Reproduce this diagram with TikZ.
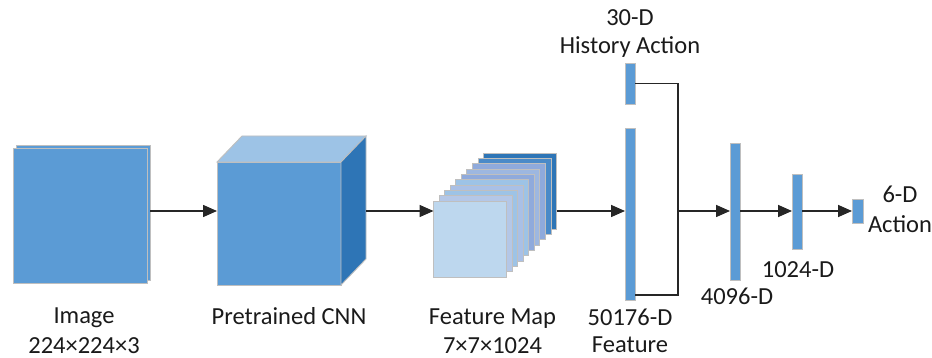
\documentclass[tikz,border=0pt]{standalone}
\usepackage{fontspec}
\setmainfont{Carlito}
\usetikzlibrary{arrows.meta}
\definecolor{blu}{HTML}{5B9BD5}
\definecolor{bludark}{HTML}{2E75B6}
\definecolor{blutop}{HTML}{9DC3E6}
\definecolor{edge}{HTML}{BFBFBF}
\definecolor{arr}{HTML}{262626}
\definecolor{txt}{HTML}{1A1A1A}
\definecolor{fm0}{HTML}{BDD7EE}
\definecolor{fm1}{HTML}{B4C7E7}
\definecolor{fm2}{HTML}{9DC3E6}
\definecolor{fm3}{HTML}{A9C0E6}
\definecolor{fm4}{HTML}{9DC3E6}
\definecolor{fm5}{HTML}{8FAADC}
\definecolor{fm6}{HTML}{9DB7E0}
\definecolor{fm7}{HTML}{8FAADC}
\definecolor{fm8}{HTML}{4A8AC8}
\definecolor{fm9}{HTML}{2E75B6}
\begin{document}
\begin{tikzpicture}[x=1pt,y=-1pt,
  box/.style={draw=edge, line width=0.9pt, fill=blu, inner sep=0pt, outer sep=0pt},
  bar/.style={box, minimum width=10pt},
  wire/.style={draw=arr, line width=1.6pt},
  conn/.style={wire, -{Triangle[length=14pt,width=12pt]}},
  lbl/.style={font=\fontsize{24.5}{29}\selectfont, text=txt, anchor=base, inner sep=0pt}]
\useasboundingbox (0,0) rectangle (932,358);
\coordinate (mid) at (0,211);

% Image
\node[box, minimum width=134pt, minimum height=135pt] (imgb) at (83,212.5) {};
\node[box, minimum width=134pt, minimum height=135pt] (img) at (80,215.5) {};
\node[lbl] (imgl1) at (84,323) {Image};
\node[lbl] (imgl2) at (84,353) {224×224×3};

% CNN cube
\node[box, minimum width=124pt, minimum height=123pt] (cnn) at (279,223.5) {};
\draw[draw=edge, line width=0.9pt, fill=blutop] (217,162) -- (242,136) -- (366,136) -- (341,162) -- cycle;
\draw[draw=edge, line width=0.9pt, fill=bludark] (341,162) -- (366,136) -- (366,259) -- (341,285) -- cycle;
\coordinate (cnnr) at (366,211);
\node[lbl] (cnnl) at (289,324) {Pretrained CNN};

% Feature map stack
\foreach \i in {9,8,...,1}{
  \node[box, fill=fm\i, minimum width=73pt, minimum height=76pt] (fm\i) at ({470+5.56*\i},{239-5.33*\i}) {};
}
\node[box, fill=fm0, minimum width=73pt, minimum height=76pt] (fm0) at (470,239) {};
\node[lbl] (fml1) at (492.5,324) {Feature Map};
\node[lbl] (fml2) at (492.5,353) {7×7×1024};

% Bars
\node[bar, minimum height=172pt] (feat) at (630,214) {};
\node[bar, minimum height=41pt] (hist) at (630,83.5) {};
\node[bar, minimum height=137pt] (fc1) at (735,211.5) {};
\node[bar, minimum height=75pt] (fc2) at (797,211.5) {};
\node[box, minimum width=11pt, minimum height=24pt] (out) at (857.5,211) {};

\node[lbl] (hl1) at (630,26) {30-D};
\node[lbl] (hl2) at (630,54) {History Action};
\node[lbl] (fl1) at (630,325) {50176-D};
\node[lbl] (fl2) at (630,352) {Feature};
\node[lbl] (f1l) at (737,305) {4096-D};
\node[lbl] (f2l) at (798,277) {1024-D};
\node[lbl] (ol1) at (900,203) {6-D};
\node[lbl] (ol2) at (900,233) {Action};

% Connectors
\coordinate (jb) at (678,295);
\draw[conn] (imgb.east |- mid) -- (cnn.west |- mid);
\draw[conn] (cnnr) -- (fm0.west |- mid);
\draw[conn] (fm9.east |- mid) -- (feat.west |- mid);
\draw[wire] (hist.east) -| (jb) -- (feat.east |- jb);
\draw[conn] (jb |- mid) -- (fc1.west |- mid);
\draw[conn] (fc1.east |- mid) -- (fc2.west |- mid);
\draw[conn] (fc2.east |- mid) -- (out.west |- mid);
\end{tikzpicture}
\end{document}
